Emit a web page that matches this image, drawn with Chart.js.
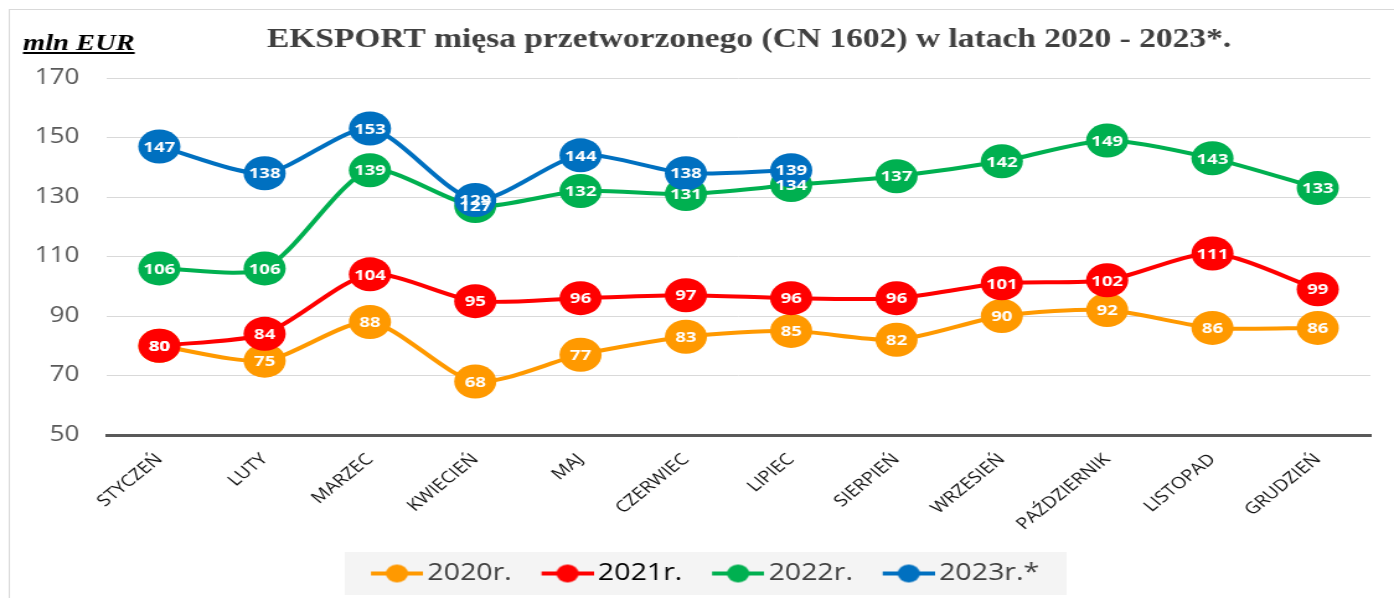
<!DOCTYPE html>
<html><head><meta charset="utf-8">
<script src="https://cdn.jsdelivr.net/npm/chart.js@4.4.0/dist/chart.umd.min.js"></script>
<style>
html,body{margin:0;padding:0;background:#fff;overflow:hidden;width:1394px;height:598px;}
#wrap{position:absolute;left:0;top:0;width:1124px;height:598px;transform:scaleX(1.2402);transform-origin:0 0;}
</style></head><body>
<div id="wrap"><canvas id="c"></canvas></div>
<script>
const categories = ['STYCZEŃ','LUTY','MARZEC','KWIECIEŃ','MAJ','CZERWIEC','LIPIEC','SIERPIEŃ','WRZESIEŃ','PAŹDZIERNIK','LISTOPAD','GRUDZIEŃ'];
const values2020 = [80,75,88,68,77,83,85,82,90,92,86,86];
const values2021 = [80,84,104,95,96,97,96,96,101,102,111,99];
const values2022 = [106,106,139,127,132,131,134,137,142,149,143,133];
const values2023 = [147,138,153,129,144,138,139];
const seriesNames = ['2020r.','2021r.','2022r.','2023r.*'];
const yTicks = [50,70,90,110,130,150,170];
const titleText = 'EKSPORT mięsa przetworzonego (CN 1602) w latach 2020 - 2023*.';
const unitText = 'mln EUR';

const colors = ['#FF9900','#FF0000','#00B050','#0070C0'];
const legendTextColors = ['#404040','#000000','#404040','#404040'];

function legendIcon(color){
  const c=document.createElement('canvas'); c.width=64; c.height=20;
  const g=c.getContext('2d');
  g.strokeStyle=color; g.lineWidth=4; g.beginPath(); g.moveTo(22,10); g.lineTo(64,10); g.stroke();
  g.fillStyle=color; g.beginPath(); g.arc(43,10,9,0,Math.PI*2); g.fill();
  return c;
}
const icons = colors.map(legendIcon);

const decorPlugin = {
  id:'decor',
  beforeDraw(chart){
    const ctx=chart.ctx;
    ctx.save();
    ctx.fillStyle='#fff'; ctx.fillRect(0,0,chart.width,chart.height);
    ctx.strokeStyle='#d9d9d9'; ctx.lineWidth=1; ctx.strokeRect(7.5,9.5,chart.width+40,chart.height+40);
    const lg=chart.legend; const hb=lg && lg.legendHitBoxes;
    if(hb&&hb.length){
      const l=hb[0].left-7; const last=hb[hb.length-1]; const r=last.left+last.width+22;
      ctx.fillStyle='#f4f4f4'; ctx.fillRect(l, lg.top, r-l, lg.height);
    }
    ctx.restore();
  },
  afterDatasetsDraw(chart){
    const ctx=chart.ctx; ctx.save();
    ctx.font='bold 15px "Open Sans"'; ctx.fillStyle='#ffffff'; ctx.textAlign='center'; ctx.textBaseline='middle';
    chart.data.datasets.forEach((ds,i)=>{
      const meta=chart.getDatasetMeta(i); if(meta.hidden) return;
      meta.data.forEach((pt,j)=>{ const v=ds.data[j]; if(v==null) return; ctx.fillText(String(v), pt.x, pt.y+1); });
    });
    ctx.restore();
  },
  afterDraw(chart){
    const ctx=chart.ctx; ctx.save();
    ctx.font='bold 27px "Liberation Serif"'; ctx.fillStyle='#404040'; ctx.textAlign='center'; ctx.textBaseline='alphabetic';
    ctx.fillText(titleText, 604, 47);
    ctx.font='bold italic 23px "Liberation Serif"'; ctx.fillStyle='#000'; ctx.textAlign='left';
    ctx.fillText(unitText, 18.5, 50);
    const w=ctx.measureText(unitText).width;
    ctx.fillRect(18.5, 52, w, 2);
    ctx.restore();
  }
};

function makeDs(label, data, i){
  return {label, data, borderColor:colors[i], backgroundColor:colors[i], pointBackgroundColor:colors[i],
    pointBorderWidth:0, pointRadius:17, pointHoverRadius:17, pointStyle:'circle', borderWidth:4, tension:0.25,
    fill:false, order:3-i};
}

function make(){
  new Chart(document.getElementById('c'), {
    type:'line',
    data:{ labels:categories, datasets:[
      makeDs(seriesNames[0], values2020, 0),
      makeDs(seriesNames[1], values2021, 1),
      makeDs(seriesNames[2], values2022, 2),
      makeDs(seriesNames[3], values2023, 3)
    ]},
    options:{
      responsive:true, maintainAspectRatio:false, animation:false,
      layout:{padding:{left:18,right:19,top:78,bottom:3}},
      plugins:{
        title:{display:false}, tooltip:{enabled:false},
        legend:{position:'bottom', labels:{
          usePointStyle:true, pointStyleWidth:48, padding:10,
          font:{family:'"Open Sans"', size:23},
          generateLabels(chart){
            return chart.data.datasets.map((ds,i)=>({text:ds.label, fillStyle:ds.borderColor, strokeStyle:ds.borderColor,
              lineWidth:0, pointStyle:icons[i], hidden:!chart.isDatasetVisible(i), datasetIndex:i, fontColor:legendTextColors[i]}));
          }
        }}
      },
      scales:{
        x:{ offset:true, grid:{display:false}, border:{display:true,color:'#595959',width:3},
            ticks:{color:'#111111', font:{family:'"Open Sans"', size:16}, minRotation:45, maxRotation:45, padding:7, autoSkip:false},
            afterFit(s){ s.height=117; } },
        y:{ min:yTicks[0], max:yTicks[yTicks.length-1],
            ticks:{stepSize:yTicks[1]-yTicks[0], color:'#595959', font:{family:'"Open Sans"', size:21}, padding:22},
            grid:{color:'#d9d9d9', lineWidth:1, drawTicks:false}, border:{display:false},
            afterFit(s){ s.width=68; } }
      }
    },
    plugins:[decorPlugin]
  });
}
Promise.all([
  document.fonts.load('21px "Open Sans"'), document.fonts.load('bold 15px "Open Sans"'),
  document.fonts.load('bold 27px "Liberation Serif"'), document.fonts.load('bold italic 23px "Liberation Serif"')
]).then(make, make);
</script>
</body></html>
